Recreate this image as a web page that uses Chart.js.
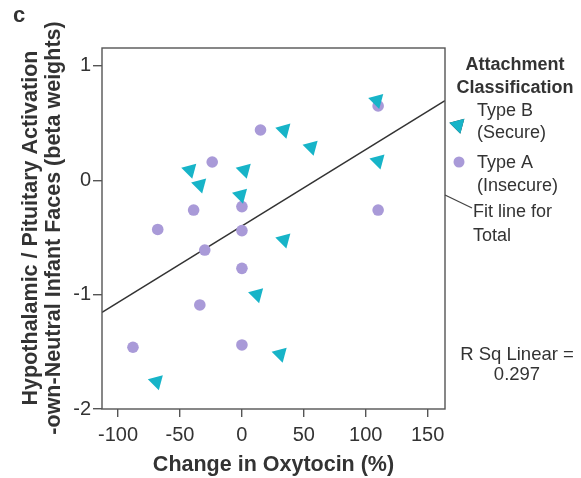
<!DOCTYPE html>
<html>
<head>
<meta charset="utf-8">
<script src="https://cdn.jsdelivr.net/npm/chart.js@4"></script>
<style>
  html, body { margin: 0; padding: 0; background: #fff; }
  #wrap { width: 581px; height: 478px; position: relative; }
</style>
</head>
<body>
<div id="wrap"><canvas id="c" width="581" height="478"></canvas></div>
<script>
// data
const typeBX = [109, 34, 56, -42, 2, 110, -34, -1, 34, 12, 31, -69]
const typeBY = [0.70, 0.44, 0.29, 0.09, 0.09, 0.17, -0.04, -0.13, -0.52, -1.0, -1.52, -1.76]
const typeAX = [15, -24, -39, 0, -68, 0, -30, 0, -34, -88, 0, 110, 110]
const typeAY = [0.44, 0.16, -0.26, -0.23, -0.43, -0.44, -0.61, -0.77, -1.09, -1.46, -1.44, 0.65, -0.26]
const fitX = [-113, 164]
const fitY = [-1.155, 0.697]
const xTicks = [-100, -50, 0, 50, 100, 150]
const yTicks = [-2, -1, 0, 1]
const rSq = "0.297"

const ink = "#333"
const teal = "#17b4c8"
const lilac = "#a99ad8"
const FONT = "'Liberation Sans', Arial, sans-serif"

const pts = (xs, ys) => xs.map((x, i) => ({ x: x, y: ys[i] }))

// extra text, legend and frame drawn on the canvas
const extras = {
  id: "extras",
  afterDraw(chart) {
    const ctx = chart.ctx
    const a = chart.chartArea
    ctx.save()
    // frame round the plot
    ctx.strokeStyle = "#555"
    ctx.lineWidth = 1.4
    ctx.strokeRect(a.left, a.top, a.right - a.left, a.bottom - a.top)

    ctx.fillStyle = ink
    ctx.textBaseline = "middle"
    // panel letter
    ctx.font = "bold 22px " + FONT
    ctx.textAlign = "left"
    ctx.fillText("c", 13, 16)

    // y title, two lines
    ctx.save()
    ctx.translate(31, 228)
    ctx.rotate(-Math.PI / 2)
    ctx.textAlign = "center"
    ctx.font = "bold 21.5px " + FONT
    ctx.fillText("Hypothalamic / Pituitary Activation", 0, 0)
    ctx.fillText("-own-Neutral Infant Faces (beta weights)", 0, 23)
    ctx.restore()

    // legend
    ctx.font = "bold 18px " + FONT
    ctx.textAlign = "center"
    ctx.fillText("Attachment", 515, 65)
    ctx.fillText("Classification", 515, 88)
    ctx.font = "18px " + FONT
    ctx.textAlign = "left"
    ctx.fillText("Type B", 477, 111)
    ctx.fillText("(Secure)", 477, 133)
    ctx.fillText("Type A", 477, 163)
    ctx.fillText("(Insecure)", 477, 186)
    ctx.fillText("Fit line for", 473, 212)
    ctx.fillText("Total", 473, 236)
    Chart.helpers.drawPoint(ctx, { pointStyle: "triangle", radius: 9, rotation: 165 }, 458, 125)
    ctx.fillStyle = teal
    ctx.fill()
    ctx.beginPath()
    ctx.arc(459, 162, 5.5, 0, Math.PI * 2)
    ctx.fillStyle = lilac
    ctx.fill()
    // callout for the fit line
    ctx.strokeStyle = "#444"
    ctx.lineWidth = 1.3
    ctx.beginPath()
    ctx.moveTo(a.right, 195)
    ctx.lineTo(472, 208)
    ctx.stroke()

    // r squared note
    ctx.fillStyle = ink
    ctx.textAlign = "center"
    ctx.font = "18.5px " + FONT
    ctx.fillText("R Sq Linear =", 517, 355)
    ctx.fillText(rSq, 517, 375)
    ctx.restore()
  }
}

new Chart(document.getElementById("c"), {
  type: "scatter",
  data: {
    datasets: [
      {
        label: "Fit line for Total",
        type: "line",
        data: pts(fitX, fitY),
        borderColor: "#333",
        borderWidth: 1.5,
        pointRadius: 0,
        order: 3
      },
      {
        label: "Type A (Insecure)",
        data: pts(typeAX, typeAY),
        pointStyle: "circle",
        pointRadius: 5.8,
        backgroundColor: lilac,
        borderWidth: 0,
        order: 2
      },
      {
        label: "Type B (Secure)",
        data: pts(typeBX, typeBY),
        pointStyle: "triangle",
        pointRadius: 9,
        rotation: 165,
        backgroundColor: teal,
        borderWidth: 0,
        order: 1
      }
    ]
  },
  options: {
    responsive: false,
    animation: false,
    layout: { padding: { left: 0, right: 136, top: 48, bottom: 0 } },
    plugins: { legend: { display: false }, tooltip: { enabled: false } },
    scales: {
      x: {
        type: "linear",
        min: -113,
        max: 164,
        afterBuildTicks: s => { s.ticks = xTicks.map(v => ({ value: v })) },
        afterFit: s => { s.height = 69 },
        grid: { drawOnChartArea: false, drawTicks: true, tickLength: 8, color: "#555", lineWidth: 1.4 },
        border: { display: false },
        ticks: { color: ink, font: { family: FONT, size: 20 }, padding: 6, maxRotation: 0 },
        title: { display: true, text: "Change in Oxytocin (%)", color: ink, font: { family: FONT, size: 21.5, weight: "bold" }, padding: { top: 0, bottom: 0 } }
      },
      y: {
        type: "linear",
        min: -2,
        max: 1.157,
        afterBuildTicks: s => { s.ticks = yTicks.map(v => ({ value: v })) },
        afterFit: s => { s.width = 102 },
        grid: { drawOnChartArea: false, drawTicks: true, tickLength: 9, color: "#555", lineWidth: 1.4 },
        border: { display: false },
        ticks: { color: ink, font: { family: FONT, size: 20 }, padding: 2 }
      }
    }
  },
  plugins: [extras]
})
</script>
</body>
</html>
